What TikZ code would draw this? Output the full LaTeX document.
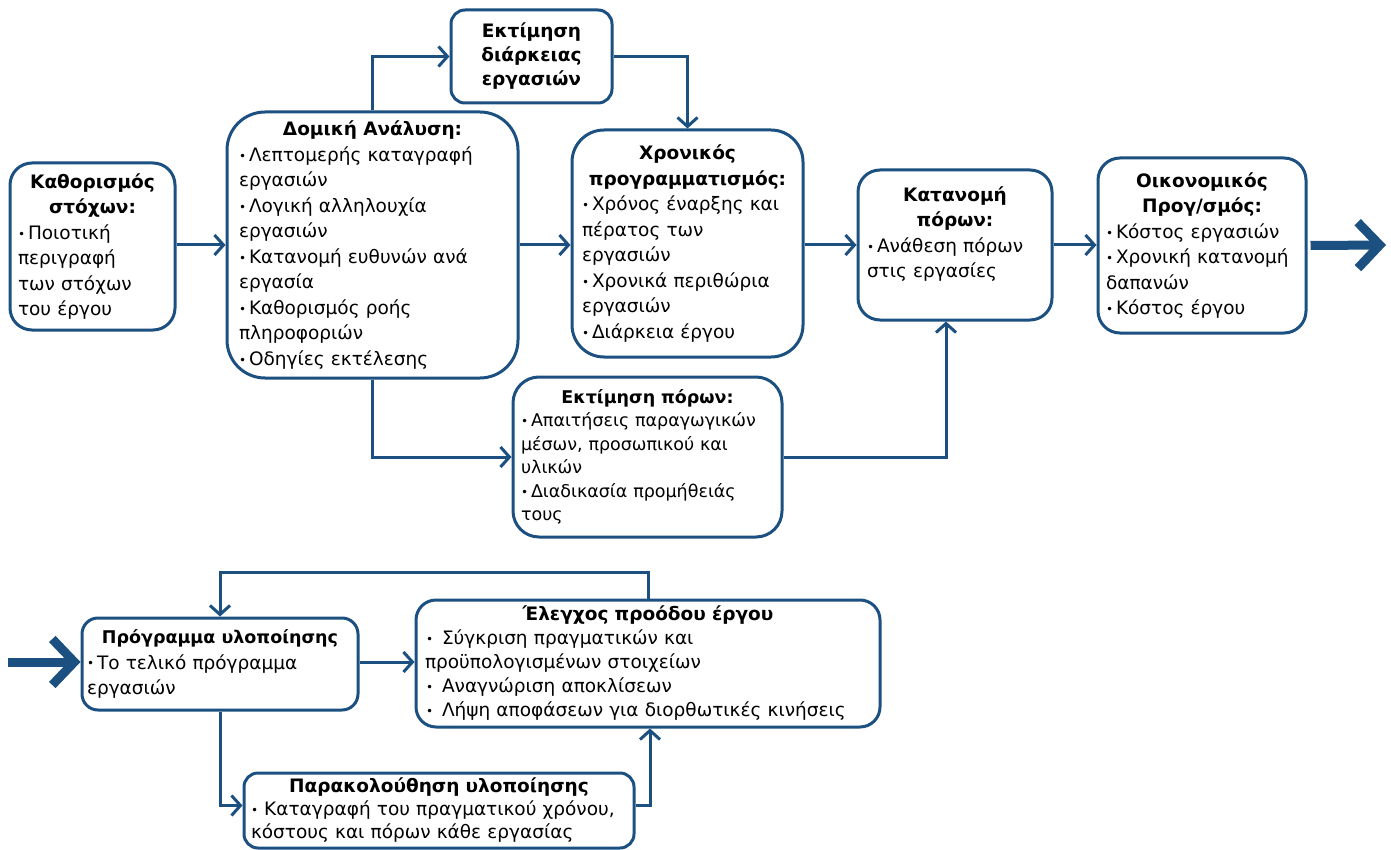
\documentclass[tikz,border=0pt]{standalone}
\usepackage{fontspec}
\setmainfont{DejaVu Sans}
\usetikzlibrary{arrows.meta,calc}
\definecolor{flow}{RGB}{28,80,128}
\newlength\bwd
\setlength\bwd{10pt}
\newlength\bwdw
\setlength\bwdw{17pt}
% small bullet used in the item lists
\newcommand\dotmark{\raisebox{1.2pt}{\fontsize{12}{12}\selectfont •}}
% item with hanging indent
\newcommand\entry[1]{\par\noindent\hangindent=\bwd\hangafter=1\makebox[\bwd][l]{\dotmark}#1}
\newcommand\entryw[1]{\par\noindent\hangindent=\bwdw\hangafter=1\makebox[\bwdw][l]{\hspace{1pt}\dotmark}#1}
% centred bold heading (several lines)
\newcommand\hd[1]{{\centering\noindent\bfseries #1\par}}
% centred bold heading (one line)
\newcommand\hdl[1]{\noindent\makebox[\linewidth][c]{\bfseries #1}\par}
\begin{document}
\begin{tikzpicture}[x=1pt,y=-1pt,
  box/.style={draw=flow, line width=3pt, fill=white, inner sep=0pt, align=left,
    font=\fontsize{18.5}{25.5}\selectfont, text=black},
  conn/.style={draw=flow, line width=3pt, -{Straight Barb[length=9pt,width=20pt]}},
  bigarrow/.style={draw=flow, line width=9pt, -{Straight Barb[length=22pt,width=46pt]}}]
\useasboundingbox (0,0) rectangle (1391,850);

% ---- planning chain ----
\node[box, rounded corners=22pt, minimum width=165pt, minimum height=167pt, text width=149pt]
  (goal) at (92.5,246.5)
  {\hd{Καθορισμός\\στόχων:}\entry{Ποιοτική\\περιγραφή\\των στόχων\\του έργου}};

\node[box, rounded corners=38pt, minimum width=291pt, minimum height=266pt, text width=267pt]
  (wbs) at (372.5,245)
  {\hdl{Δομική Ανάλυση:}%
   \entry{Λεπτομερής καταγραφή\\εργασιών}%
   \entry{Λογική αλληλουχία\\εργασιών}%
   \entry{Κατανομή ευθυνών ανά\\εργασία}%
   \entry{Καθορισμός ροής\\πληροφοριών}%
   \entry{Οδηγίες εκτέλεσης}};

\node[box, rounded corners=14pt, minimum width=161pt, minimum height=93pt, text width=145pt,
  font=\fontsize{18.5}{24}\selectfont]
  (dur) at (531.5,56.5)
  {\rule{0pt}{4pt}\hd{Εκτίμηση\\διάρκειας\\εργασιών}};

\node[box, rounded corners=32pt, minimum width=231pt, minimum height=227pt, text width=211pt]
  (sched) at (687.5,243.5)
  {\hd{Χρονικός\\προγραμματισμός:}%
   \entry{Χρόνος έναρξης και\\πέρατος των\\εργασιών}%
   \entry{Χρονικά περιθώρια\\εργασιών}%
   \entry{Διάρκεια έργου}};

\node[box, rounded corners=22pt, minimum width=194pt, minimum height=150pt, text width=176pt]
  (alloc) at (955,245)
  {\hd{Κατανομή\\πόρων:}%
   \entry{Ανάθεση πόρων\\στις εργασίες}\par\rule{0pt}{20pt}};

\node[box, rounded corners=22pt, minimum width=208pt, minimum height=175pt, text width=192pt]
  (budget) at (1202,245.5)
  {\hd{Οικονομικός\\Προγ/σμός:}%
   \entry{Κόστος εργασιών}%
   \entry{Χρονική κατανομή\\δαπανών}%
   \entry{Κόστος έργου}};

\node[box, rounded corners=26pt, minimum width=269pt, minimum height=160pt, text width=253pt,
  font=\fontsize{17.5}{23.5}\selectfont]
  (res) at (647.5,457)
  {\hdl{Εκτίμηση πόρων:}%
   \entry{Απαιτήσεις παραγωγικών\\μέσων, προσωπικού και\\υλικών}%
   \entry{Διαδικασία προμήθειάς\\τους}};

% ---- implementation loop ----
\node[box, rounded corners=16pt, minimum width=276pt, minimum height=92pt, text width=266pt]
  (plan) at (220,664)
  {\hdl{\fontsize{17.5}{25.5}\selectfont Πρόγραμμα υλοποίησης}%
   \entry{Το τελικό πρόγραμμα\\εργασιών}};

\node[box, rounded corners=20pt, minimum width=464pt, minimum height=127pt, text width=446pt,
  font=\fontsize{18.5}{24}\selectfont]
  (ctrl) at (648,663.5)
  {\hdl{Έλεγχος προόδου έργου}%
   \entryw{Σύγκριση πραγματικών και\\προϋπολογισμένων στοιχείων}%
   \entryw{Αναγνώριση αποκλίσεων}%
   \entryw{Λήψη αποφάσεων για διορθωτικές κινήσεις}};

\node[box, rounded corners=14pt, minimum width=390pt, minimum height=75pt, text width=376pt,
  font=\fontsize{18.5}{23}\selectfont]
  (mon) at (439,810.5)
  {\hdl{Παρακολούθηση υλοποίησης}%
   \noindent\dotmark\ Καταγραφή του πραγματικού χρόνου,\\κόστους και πόρων κάθε εργασίας};

% ---- connectors ----
\draw[conn] (goal.east |- 0,245) -- (wbs.west |- 0,245);
\draw[conn] (wbs.north) |- (dur.west);
\draw[conn] (dur.east) -| (sched.north);
\draw[conn] (wbs.east) -- (wbs.east -| sched.west);
\draw[conn] (sched.east |- 0,245) -- (alloc.west |- 0,245);
\draw[conn] (alloc.east) -- (alloc.east -| budget.west);
\draw[conn] (wbs.south) |- (res.west);
\draw[conn] (res.east) -| ([xshift=-9pt]alloc.south);

\coordinate (outR) at (1386,245);
\draw[bigarrow] ([xshift=3pt]budget.east) -- (outR);

\coordinate (inL) at (8,662);
\draw[bigarrow] (inL) -- (inL -| plan.west);
\draw[conn] (plan.east |- 0,662) -- (ctrl.west |- 0,662);
\draw[conn] (ctrl.north) -- ++(0,-26) -| (plan.north);
\draw[conn] (plan.south) |- ([yshift=5pt]mon.west);
\draw[conn] ([yshift=5pt]mon.east) -| ([xshift=2pt]ctrl.south);
\end{tikzpicture}
\end{document}
